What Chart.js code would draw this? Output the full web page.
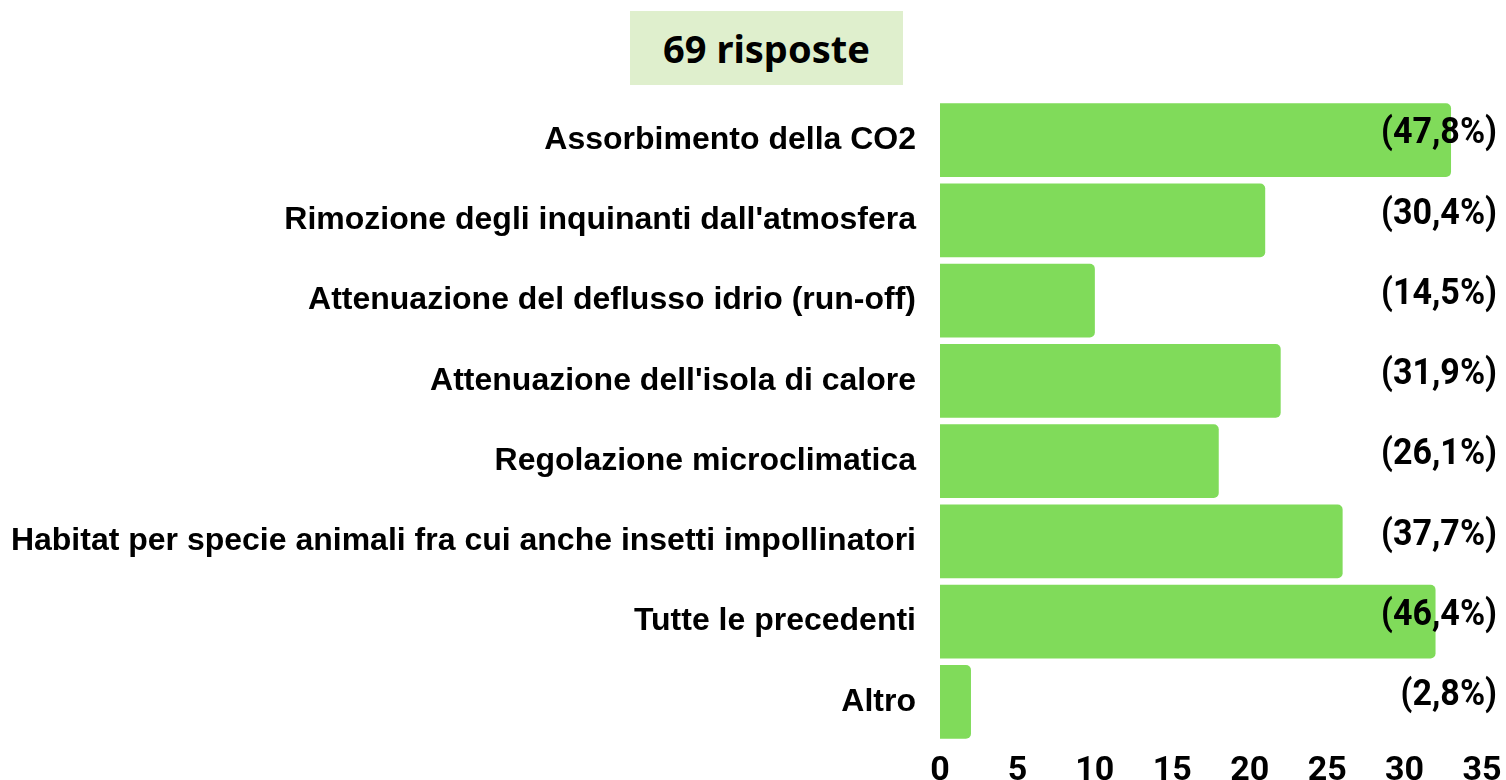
<!DOCTYPE html>
<html>
<head>
<meta charset="utf-8">
<script src="https://cdn.jsdelivr.net/npm/chart.js@4"></script>
<style>
  html, body { margin: 0; padding: 0; background: #fff; }
  #wrap { position: relative; width: 1506px; height: 780px; }
  #risposte {
    position: absolute; left: 630px; top: 11px; width: 273px; height: 74px;
    background: #dfefcd; font: bold 38px "Noto Sans", sans-serif; color: #000;
    display: flex; align-items: center; justify-content: center;
  }
</style>
</head>
<body>
<div id="wrap">
  <canvas id="bars" width="1506" height="780"></canvas>
  <div id="risposte">69 risposte</div>
</div>
<script>
// risposte per funzione del verde

const categories = [
    'Assorbimento della CO2',
    'Rimozione degli inquinanti dall\'atmosfera',
    'Attenuazione del deflusso idrio (run-off)',
    'Attenuazione dell\'isola di calore',
    'Regolazione microclimatica',
    'Habitat per specie animali fra cui anche insetti impollinatori',
    'Tutte le precedenti',
    'Altro'
];
const counts = [33, 21, 10, 22, 18, 26, 32, 2];
const percentLabels = ['(47,8%)', '(30,4%)', '(14,5%)', '(31,9%)', '(26,1%)', '(37,7%)', '(46,4%)', '(2,8%)'];
const xTicks = [0, 5, 10, 15, 20, 25, 30, 35];

const numFont = 'Roboto, sans-serif';

// percentuali scritte a destra di ogni riga
const percentPlugin = {
    id: 'percentPlugin',
    afterDatasetsDraw(chart) {
        const ctx = chart.ctx;
        const meta = chart.getDatasetMeta(0);
        const right = chart.chartArea.right + 15;
        ctx.save();
        ctx.font = 'bold 37px ' + numFont;
        ctx.fillStyle = '#000';
        ctx.textAlign = 'right';
        ctx.textBaseline = 'middle';
        meta.data.forEach((bar, i) => {
            // testo un po' stretto in orizzontale
            ctx.save();
            ctx.translate(right, bar.y - 6);
            ctx.scale(0.92, 1);
            ctx.fillText(percentLabels[i], 0, 0);
            ctx.restore();
        });
        ctx.restore();
    }
};

const ctx = document.getElementById('bars');

new Chart(ctx, {
    type: 'bar',
    data: {
        labels: categories,
        datasets: [{
            data: counts,
            backgroundColor: '#80db5a',
            borderSkipped: 'start',
            borderRadius: { topRight: 5, bottomRight: 5, topLeft: 0, bottomLeft: 0 },
            categoryPercentage: 1,
            barPercentage: 0.92
        }]
    },
    options: {
        indexAxis: 'y',
        responsive: false,
        animation: false,
        layout: { padding: { top: 100, right: 24, left: 0, bottom: 0 } },
        plugins: {
            legend: { display: false },
            tooltip: { enabled: false }
        },
        scales: {
            x: {
                min: 0,
                max: 35,
                afterBuildTicks: scale => { scale.ticks = xTicks.map(v => ({ value: v })); },
                afterFit: scale => {
                    scale.height = 38;
                    scale.paddingLeft = 0;
                    scale.paddingRight = 0;
                },
                grid: { display: false, drawTicks: false },
                border: { display: false },
                ticks: {
                    color: '#000',
                    padding: 9,
                    font: { family: numFont, weight: 'bold', size: 34 }
                }
            },
            y: {
                afterFit: scale => {
                    scale.width = 940;
                    scale.paddingTop = 0;
                    scale.paddingBottom = 0;
                },
                grid: { display: false, drawTicks: false },
                border: { display: false },
                ticks: {
                    color: '#000',
                    padding: 24,
                    font: { family: '"Liberation Sans", Arial, sans-serif', weight: 'bold', size: 32 }
                }
            }
        }
    },
    plugins: [percentPlugin]
});
</script>
</body>
</html>
